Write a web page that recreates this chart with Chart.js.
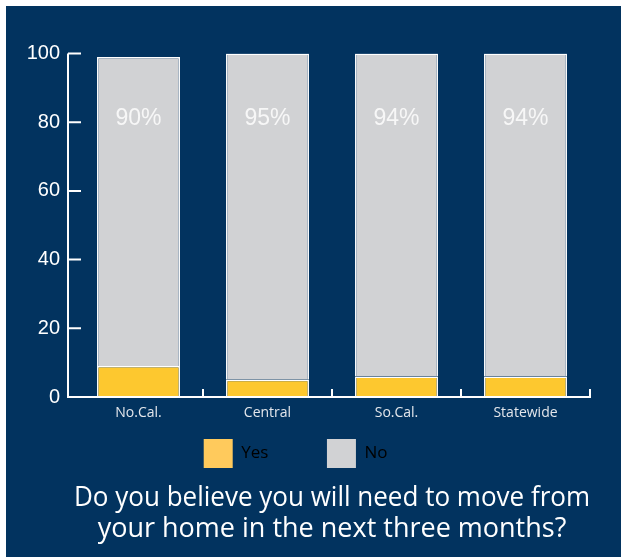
<!DOCTYPE html>
<html>
<head>
<meta charset="utf-8">
<script src="https://cdn.jsdelivr.net/npm/chart.js@4"></script>
<style>
  html, body { margin: 0; background: #fff; }
  #box { position: absolute; left: 6px; top: 6px; width: 615px; height: 551px; background: #02335f; }
</style>
</head>
<body>
<div id="box"><canvas id="chart"></canvas></div>
<script>
// Encuesta: necesidad de mudarse en los proximos tres meses, por region
const CATEGORIES = ["No.Cal.", "Central", "So.Cal.", "Statewide"];
const YES = [9, 5, 6, 6];
const NO = [90, 95, 94, 94];
const Y_MAX = 100;
const Y_STEP = 20;
const LABEL_LEVEL = 81; // altura (en valor del eje) donde van los porcentajes
const TITLE = ["Do you believe you will need to move from", "your home in the next three months?"];

const C = { bg: "#02335f", yes: "#fdc82f", yesKey: "#ffca5c", no: "#d1d2d4", line: "#ffffff", label: "#e4e7ec" };

// ejes dibujados a mano: linea vertical separada de las barras y marcas hacia adentro
const axisLines = {
  id: "axisLines",
  afterDatasetsDraw(chart) {
    const { ctx, chartArea: a, scales: { x, y } } = chart;
    const x0 = a.left - 6;
    ctx.save();
    ctx.strokeStyle = C.line;
    ctx.lineWidth = 2;
    ctx.beginPath();
    ctx.moveTo(x0, y.getPixelForValue(Y_MAX));
    ctx.lineTo(x0, a.bottom);
    ctx.lineTo(a.right + 1, a.bottom);
    y.ticks.forEach((t) => {
      const py = y.getPixelForValue(t.value);
      ctx.moveTo(x0, py);
      ctx.lineTo(x0 + 13, py);
    });
    const step = x.width / CATEGORIES.length;
    for (let i = 1; i <= CATEGORIES.length; i++) {
      const px = x.left + i * step;
      ctx.moveTo(px, a.bottom);
      ctx.lineTo(px, a.bottom - 8);
    }
    ctx.stroke();
    ctx.restore();
  },
};

// porcentaje de "No" dentro de cada barra gris
const noLabels = {
  id: "noLabels",
  afterDatasetsDraw(chart) {
    const { ctx, scales: { y } } = chart;
    const meta = chart.getDatasetMeta(1);
    ctx.save();
    ctx.fillStyle = "#f7f7f7";
    ctx.font = '23px "Liberation Sans", Arial, sans-serif';
    ctx.textAlign = "center";
    ctx.textBaseline = "middle";
    meta.data.forEach((bar, i) => {
      ctx.fillText(NO[i] + "%", bar.x, y.getPixelForValue(LABEL_LEVEL));
    });
    ctx.restore();
  },
};

new Chart(document.getElementById("chart"), {
  type: "bar",
  data: {
    labels: CATEGORIES,
    datasets: [
      { label: "Yes", data: YES, backgroundColor: C.yes, borderColor: C.line, borderWidth: 1.5 },
      { label: "No", data: NO, backgroundColor: C.no, borderColor: C.line, borderWidth: 1.5 },
    ],
  },
  options: {
    responsive: true,
    maintainAspectRatio: false,
    animation: false,
    datasets: { bar: { barPercentage: 0.643, categoryPercentage: 1 } },
    layout: { padding: { left: 4, right: 31, top: 47.5, bottom: 12.5 } },
    plugins: {
      tooltip: { enabled: false },
      legend: {
        position: "bottom",
        labels: {
          boxWidth: 29,
          boxHeight: 29,
          padding: 10,
          color: "#ffffff",
          font: { family: "Open Sans", size: 17 },
          generateLabels: () => [
            { text: "Yes" + " ".repeat(11), fillStyle: C.yesKey, strokeStyle: C.yesKey, lineWidth: 0, datasetIndex: 0 },
            { text: "No" + " ".repeat(2), fillStyle: C.no, strokeStyle: C.no, lineWidth: 0, datasetIndex: 1 },
          ],
        },
      },
      title: {
        display: true,
        position: "bottom",
        fullSize: false,
        text: TITLE,
        color: "#ffffff",
        font: { family: "Open Sans", size: 27, weight: "normal", lineHeight: 1.148 },
        padding: { top: 4.5, bottom: 0 },
      },
    },
    scales: {
      x: {
        stacked: true,
        grid: { display: false, drawTicks: false },
        border: { display: false },
        ticks: { color: C.label, padding: 8, font: { family: "Open Sans", size: 14 } },
        afterFit: (s) => { s.height = 32; },
      },
      y: {
        stacked: true,
        min: 0,
        max: Y_MAX,
        grid: { display: false, drawTicks: false },
        border: { display: false },
        ticks: { stepSize: Y_STEP, color: "#ffffff", padding: 14, font: { family: "Liberation Sans", size: 20 } },
        afterFit: (s) => { s.width = 64; },
      },
    },
  },
  plugins: [axisLines, noLabels],
});
</script>
</body>
</html>
